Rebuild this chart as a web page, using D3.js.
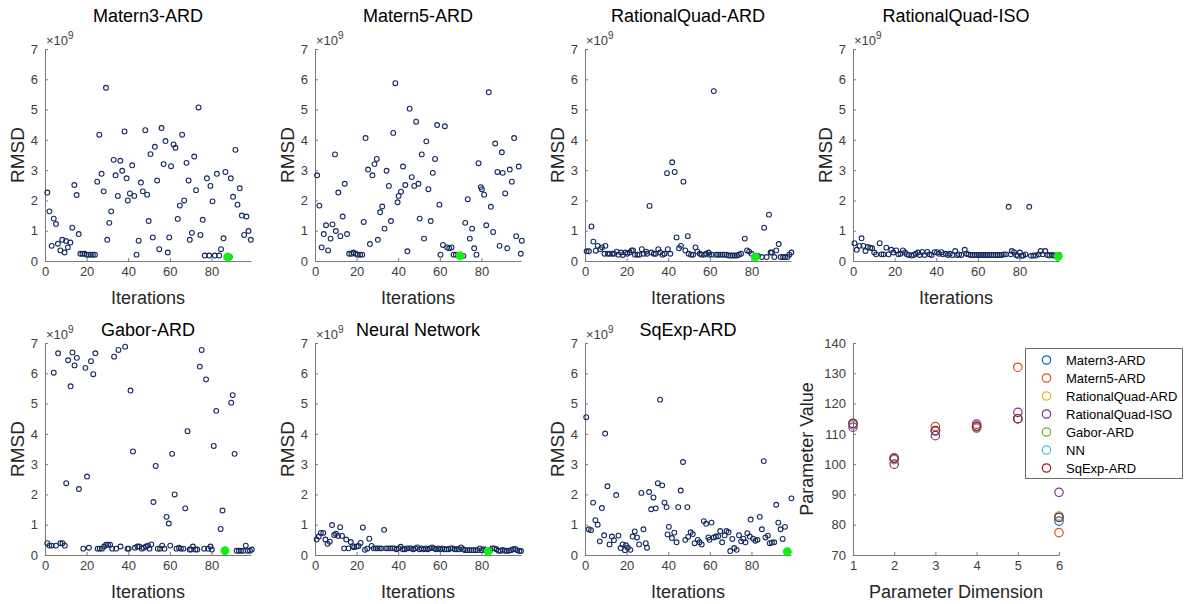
<!DOCTYPE html>
<html><head><meta charset="utf-8">
<script src="https://cdn.jsdelivr.net/npm/d3@7"></script>
<style>
body{margin:0;background:#fff;}
svg text{font-family:"Liberation Sans",Arial,Helvetica,sans-serif;}
</style>
</head><body>
<svg id="chart" width="1194" height="604"></svg>
<script>
// ---------------- DATA (RMSD values in units of 1e9) ----------------
const iterTicks = [0, 20, 40, 60, 80];
const rmsdTicks = [0, 1, 2, 3, 4, 5, 6, 7];

const matern3Iter = [1.1,2.1,3.2,4.2,5.3,6.2,7.4,8.3,9.4,10.1,11,12.2,13.1,14.1,15.2,16.2,17,18,19,20,21,22,23,24,25.1,26.1,27.2,28.2,29.3,29.9,30.9,31.8,33,33.9,35,36.2,37.1,38.2,39.2,39.8,40.8,41.9,42.9,44,45,46.1,47,48.2,49.1,49.8,50.7,51.8,52.8,53.9,54.9,56,57,57.9,59,59.7,60.6,61.8,62.7,63.8,64.8,65.9,66.9,68,69,69.6,70.6,71.7,72.6,73.8,74.7,75.8,76.8,77.8,78.9,79.5,80.5,81.6,82.6,83.7,84.6,85.8,86.7,88.8,89.3,90.4,91.5,92.5,93.6,94.6,95.7,96.8,97.8,98.9];
const matern3RMSD = [2.26,1.64,0.50,1.40,1.22,0.57,0.35,0.70,0.28,0.66,0.45,0.61,1.10,2.51,2.18,0.89,0.24,0.24,0.24,0.21,0.21,0.21,0.21,0.21,2.62,4.17,2.88,2.30,5.72,0.70,1.26,1.64,3.34,2.83,2.15,3.31,2.98,4.28,2.73,2.00,2.23,3.16,2.15,0.21,0.67,2.59,2.30,4.32,2.19,1.32,3.53,0.78,3.77,2.66,0.39,4.39,3.20,3.96,0.28,0.78,3.13,3.85,3.74,1.39,1.83,4.17,2.00,3.24,2.66,0.70,0.93,3.45,2.34,5.07,0.86,1.36,0.18,2.73,0.18,2.48,1.97,0.18,2.88,0.18,0.39,0.75,2.94,0.13,2.73,2.12,3.67,1.86,2.40,1.50,0.86,1.47,0.99,0.70];
const matern3Best = [87.8, 0.13];

const matern5Iter = [1.0,2.1,3.2,4.2,5.3,6.3,7.5,8.4,9.6,10.0,11.2,12.2,13.3,14.3,15.4,16.4,17.5,18.5,19.6,20.5,21.7,22.7,23.4,24.3,25.5,26.4,27.6,28.6,29.7,30.2,31.3,32.3,33.4,34.4,35.5,36.5,37.6,38.6,39.7,40.2,41.3,42.3,43.4,44.4,45.5,46.5,47.7,48.6,49.7,50.3,51.3,52.4,53.5,54.5,55.6,56.6,57.7,58.7,59.8,60.3,61.5,62.4,63.5,64.5,65.6,66.6,67.7,71.3,72.2,73.4,74.4,75.5,76.5,77.6,78.6,79.7,80.2,81.3,82.3,83.5,84.5,85.6,86.6,87.7,88.7,89.8,90.2,91.4,92.4,93.6,94.6,95.7,96.7,97.9,98.9,99.4];
const matern5RMSD = [2.83,1.83,0.45,0.89,1.18,0.35,0.74,1.21,3.52,0.99,2.26,0.82,1.47,2.55,0.89,0.24,0.24,0.28,0.24,0.21,0.21,0.21,1.29,4.06,3.02,0.56,2.83,3.20,3.37,0.70,1.61,1.80,1.07,2.98,2.48,1.32,4.23,5.87,1.94,2.15,2.29,3.12,2.51,0.32,5.03,2.77,2.48,4.60,2.55,1.40,3.52,0.74,3.95,2.37,1.32,2.91,3.37,4.49,1.86,0.21,0.53,4.45,0.45,0.42,0.45,0.21,0.21,0.17,1.26,2.04,0.74,1.07,0.42,0.21,3.23,2.44,2.37,2.19,1.18,5.57,1.79,0.96,3.88,2.94,0.50,3.59,2.91,2.23,0.42,3.02,2.62,4.06,0.82,3.12,0.24,0.67];
const matern5Best = [69.7, 0.17];

const rqArdIter = [0.8,1.9,3.1,4.0,5.2,6.1,7.3,8.2,9.4,9.8,11.0,11.9,13.1,14.0,15.2,16.1,17.3,18.2,19.4,20.3,21.5,22.4,23.1,24.0,25.2,26.1,27.3,28.2,29.4,29.8,31.0,31.9,33.1,34.0,35.2,36.1,37.3,38.2,39.4,39.8,41.0,41.9,43.1,44.0,45.2,46.1,47.3,48.2,49.4,49.8,51.0,51.9,53.1,54.0,55.2,56.1,57.3,58.2,59.4,59.8,61.0,61.9,63.1,64,65,66,67,68,69,70,71,72,73,74,75,76.8,77.9,78.9,80.0,83.1,85.0,86.1,87.3,88.4,89.2,89.8,91.0,91.9,93.1,94.0,95.2,96.1,97.3,98.2,99.2];
const rqArdRMSD = [0.32,0.32,1.14,0.64,0.34,0.50,0.39,0.45,0.24,0.50,0.24,0.24,0.24,0.24,0.31,0.21,0.28,0.20,0.28,0.24,0.28,0.35,0.35,0.21,0.21,0.21,0.39,0.24,0.31,0.24,1.82,0.28,0.24,0.24,0.39,0.28,0.21,0.24,2.90,0.39,0.24,3.26,2.94,0.78,0.42,0.50,2.62,0.35,0.82,0.24,0.21,0.21,0.45,0.31,0.24,0.21,0.21,0.24,0.28,0.21,0.21,5.61,0.21,0.21,0.21,0.21,0.21,0.21,0.18,0.18,0.18,0.18,0.18,0.21,0.24,0.74,0.35,0.31,0.24,0.17,0.13,1.10,0.13,1.53,0.28,0.28,0.13,0.35,0.56,0.13,0.13,0.13,0.13,0.21,0.28];
const rqArdBest = [81.9, 0.13];

const rqIsoIter = [0.7,1.8,3.1,4.1,5.0,6.0,7.1,8.3,9.2,10.2,11.1,12.8,13.7,14.7,16.0,17.1,18.4,19.4,20.8,21.8,22.8,24.0,25.0,25.9,26.9,28.2,29.2,30.1,31.2,32.0,33.3,34.4,35.7,36.8,37.8,39.2,40.4,41.3,42.5,43.3,44.6,45.7,46.5,47.8,49.1,50.1,51.0,52.1,53.7,54.5,55.5,56.5,57.5,58.5,59.5,60.5,61.5,62.5,63.5,64.5,65.5,66.5,67.5,68.5,69.5,70.5,71.5,72.5,73.5,74.8,75.8,76.3,77.4,78.4,79.2,80.2,81.0,81.8,82.9,84.7,85.5,86.7,87.9,89.2,90.2,91.1,92.4,93.4,94.4,95.5,96.3,97.2,99.0];
const rqIsoRMSD = [0.59,0.37,0.50,0.75,0.50,0.33,0.46,0.44,0.42,0.28,0.22,0.59,0.22,0.22,0.44,0.22,0.37,0.28,0.35,0.22,0.24,0.35,0.28,0.22,0.20,0.18,0.20,0.24,0.28,0.20,0.30,0.20,0.30,0.22,0.20,0.29,0.29,0.24,0.29,0.22,0.24,0.20,0.24,0.20,0.33,0.20,0.22,0.20,0.37,0.24,0.22,0.20,0.20,0.20,0.20,0.20,0.20,0.20,0.20,0.20,0.20,0.20,0.20,0.20,0.20,0.20,0.20,0.22,0.22,1.79,0.22,0.33,0.29,0.20,0.17,0.28,0.17,0.18,0.22,1.79,0.17,0.18,0.18,0.22,0.33,0.22,0.33,0.20,0.18,0.20,0.18,0.18,0.20];
const rqIsoBest = [98.6, 0.15];

const gaborIter = [1.1,2.1,3.2,4.2,5.3,6.3,7.4,8.4,9.5,10.2,11.1,12.3,13.2,14.2,15.3,16.3,18.4,19.4,20.2,21.1,22.1,23.2,24.2,25.3,26.3,27.4,28.4,29.4,30.3,31.3,32.3,33.2,34.2,35.3,36.3,38.5,39.7,40.2,41.1,42.3,43.2,44.4,45.3,46.5,47.4,48.5,49.5,50.2,51.1,52.1,53.2,54.2,55.3,56.3,57.4,58.4,59.5,60.2,61.1,62.3,63.2,64.4,65.3,66.5,67.4,68.5,69.5,70.2,71.1,72.3,73.2,74.4,75.3,76.5,77.4,78.4,79.5,80.2,81.1,82.3,84.4,85.3,89.5,90.2,91.1,92.1,93.2,94.2,95.3,96.5,97.4,98.5,99.4];
const gaborRMSD = [0.39,0.31,0.31,6.02,0.31,6.66,0.39,0.39,0.31,2.37,6.43,5.57,6.69,6.26,6.51,2.18,0.21,6.18,2.59,0.24,6.40,5.97,6.66,0.21,0.21,0.21,0.28,0.34,0.34,0.34,0.21,6.55,0.21,6.77,0.28,6.88,0.21,0.21,5.43,3.42,0.24,0.28,0.28,0.21,0.24,0.28,0.31,0.21,0.35,1.75,2.94,0.21,0.21,0.31,0.21,1.26,1.04,0.31,3.34,2.00,0.21,0.24,0.21,0.21,1.54,4.09,0.18,0.18,0.28,0.18,0.18,6.22,6.77,0.21,5.80,0.21,0.28,0.18,3.60,4.76,0.86,1.47,5.03,5.28,3.34,0.14,0.14,0.14,0.14,0.31,0.14,0.14,0.18];
const gaborBest = [86.5, 0.14];

const nnIter = [0.8,1.8,2.8,4.0,5.0,6.0,7.1,8.2,9.2,10.1,11.1,12.1,13.0,14.0,15.0,16.1,17.2,18.2,18.8,20.0,20.9,21.9,23.0,24.0,25.1,26.1,27.2,28.2,29.3,30.1,31.1,32.0,33.2,34.2,35.2,36.2,37.2,38.2,39.2,40.2,41.2,42.2,43.2,44.2,45.2,46.2,47.2,48.2,49.2,50.2,51.2,52.2,53.2,54.2,55.2,56.2,57.2,58.2,59.2,60.2,61.2,62.2,63.2,64.2,65.2,66.2,67.2,68.2,69.2,70.2,71.2,72.2,73.2,74.2,75.2,76.2,77.2,78.2,79.2,80.2,81.2,82.2,84.2,85.2,86.2,87.2,88.2,89.2,90.2,91.2,92.2,93.2,94.2,95.2,96.2,97.2,98.2,99.0];
const nnRMSD = [0.51,0.61,0.73,0.73,0.51,0.37,0.44,0.99,0.66,0.70,0.63,0.92,0.63,0.22,0.51,0.22,0.43,0.29,0.26,0.28,0.30,0.40,0.91,0.17,0.21,0.54,0.30,0.22,0.22,0.22,0.22,0.22,0.83,0.22,0.22,0.22,0.22,0.22,0.19,0.22,0.27,0.19,0.19,0.22,0.22,0.22,0.19,0.22,0.25,0.19,0.22,0.19,0.22,0.19,0.22,0.25,0.22,0.19,0.22,0.19,0.22,0.19,0.19,0.19,0.22,0.22,0.19,0.19,0.19,0.25,0.19,0.16,0.16,0.16,0.16,0.16,0.16,0.16,0.22,0.16,0.19,0.16,0.16,0.22,0.22,0.19,0.14,0.14,0.17,0.14,0.14,0.14,0.16,0.19,0.20,0.16,0.13,0.13];
const nnBest = [83.2, 0.12];

const sqExpIter = [0.6,1.8,2.9,3.9,5.0,6.1,7.1,8.1,9.2,9.7,10.8,11.8,12.9,13.9,15.0,16.1,17.1,18.1,19.2,19.7,20.6,21.8,22.9,23.9,25.0,26.0,27.1,28.1,29.2,29.8,30.8,31.8,32.9,34.0,35.0,36.1,37.1,38.2,39.2,39.7,40.3,41.8,42.9,44.0,44.8,46.0,47.1,48.2,49.2,49.6,50.8,51.8,52.7,54.2,55.1,56.1,57.1,58.2,59.3,59.8,60.8,61.9,62.9,64.0,65.0,65.9,67.1,68.0,69.0,69.8,70.8,71.7,72.9,74.0,75.0,76.1,77.1,78.0,79.2,79.6,80.8,81.9,82.9,84.0,85.0,85.9,86.7,87.9,88.8,89.8,90.9,91.9,92.9,94.0,95.0,96.1,99.2];
const sqExpRMSD = [4.55,0.85,0.82,1.73,1.15,1.00,0.45,1.55,0.65,4.01,2.27,0.35,0.61,0.49,1.98,0.64,0.23,0.35,0.16,0.32,0.24,0.17,0.61,0.78,0.58,0.35,2.05,0.85,0.39,0.24,2.08,1.51,1.90,1.54,2.37,5.13,2.30,1.73,1.58,0.68,0.93,0.56,0.74,0.42,1.58,2.13,3.07,0.50,1.58,0.60,0.75,0.69,0.39,0.50,0.42,0.35,1.12,1.03,0.58,0.50,1.07,0.58,0.61,0.62,0.79,0.42,0.65,0.79,0.75,0.13,0.53,0.23,0.17,0.65,0.45,0.54,0.42,0.72,0.61,1.17,0.54,0.47,0.50,1.26,0.85,3.10,0.58,0.64,0.39,0.41,0.42,1.66,1.07,0.85,0.53,0.93,1.87];
const sqExpBest = [97.2, 0.11];

// Parameter plot
const paramDims = [1, 2, 3, 4, 5, 6];
const paramTicksY = [70, 80, 90, 100, 110, 120, 130, 140];
const paramNames = ["Matern3-ARD", "Matern5-ARD", "RationalQuad-ARD", "RationalQuad-ISO", "Gabor-ARD", "NN", "SqExp-ARD"];
const paramColors = ["#0072BD", "#D95319", "#EDB120", "#7E2F8E", "#77AC30", "#4DBEEE", "#A2142F"];
const paramMatern3 = [113.0, 102.0, 111.0, 112.3, 115.0, 81.2];
const paramMatern5 = [113.2, 101.5, 112.4, 111.9, 132.0, 77.4];
const paramRqArd   = [113.3, 101.8, 111.0, 112.5, 115.0, 82.5];
const paramRqIso   = [112.2, 100.0, 109.4, 113.2, 117.1, 90.7];
const paramGabor   = [113.3, 101.8, 111.0, 112.5, 115.0, 82.9];
const paramNN      = [113.3, 101.8, 111.0, 112.5, 115.0, 82.4];
const paramSqExp   = [113.5, 102.0, 111.1, 112.5, 115.0, 82.4];

// ---------------- LAYOUT ----------------
const svg = d3.select("#chart");
const colLeft = [45, 315, 585, 853];
const W = 206;
const rowTop = [49, 343];
const rowBottom = [261, 555];
const titleY = [22, 336];
const navy = "#14295e";
const green = "#13ee13";
const axisGrey = "#7a7a7a";
const tickText = "#404040";

const panels = [
  {title: "Matern3-ARD", it: matern3Iter, v: matern3RMSD, best: matern3Best, r: 0, c: 0},
  {title: "Matern5-ARD", it: matern5Iter, v: matern5RMSD, best: matern5Best, r: 0, c: 1},
  {title: "RationalQuad-ARD", it: rqArdIter, v: rqArdRMSD, best: rqArdBest, r: 0, c: 2},
  {title: "RationalQuad-ISO", it: rqIsoIter, v: rqIsoRMSD, best: rqIsoBest, r: 0, c: 3},
  {title: "Gabor-ARD", it: gaborIter, v: gaborRMSD, best: gaborBest, r: 1, c: 0},
  {title: "Neural Network", it: nnIter, v: nnRMSD, best: nnBest, r: 1, c: 1},
  {title: "SqExp-ARD", it: sqExpIter, v: sqExpRMSD, best: sqExpBest, r: 1, c: 2}
];

function styleAxis(g) {
  g.selectAll(".domain").attr("stroke", axisGrey).attr("stroke-width", 1);
  g.selectAll(".tick line").attr("stroke", axisGrey).attr("stroke-width", 1);
  g.selectAll(".tick text").attr("fill", tickText)
    .style("font-size", "13px").style("font-family", "'Liberation Sans', Arial, sans-serif");
}

function drawAxes(g, x, y, top, bottom, left, xTicks, yTicks) {
  const ax = g.append("g").attr("transform", `translate(0,${bottom})`)
    .call(d3.axisBottom(x).tickValues(xTicks).tickSize(-3).tickSizeOuter(0).tickPadding(6).tickFormat(d3.format("d")));
  styleAxis(ax);
  const ay = g.append("g").attr("transform", `translate(${left},0)`)
    .call(d3.axisLeft(y).tickValues(yTicks).tickSize(-3).tickSizeOuter(0).tickPadding(7).tickFormat(d3.format("d")));
  styleAxis(ay);
}

panels.forEach(p => {
  const left = colLeft[p.c], top = rowTop[p.r], bottom = rowBottom[p.r];
  const x = d3.scaleLinear().domain([0, 99]).range([left, left + W]);
  const y = d3.scaleLinear().domain([0, 7]).range([bottom, top]);
  const g = svg.append("g");
  drawAxes(g, x, y, top, bottom, left, iterTicks, rmsdTicks);

  const pts = p.it.map((d, i) => ({it: d, v: p.v[i]})).filter(d => d.v !== undefined);
  g.append("g").selectAll("circle").data(pts).join("circle")
    .attr("cx", d => x(d.it)).attr("cy", d => y(d.v)).attr("r", 2.4)
    .attr("fill", "none").attr("stroke", navy).attr("stroke-width", 1.1);
  g.append("circle").attr("cx", x(p.best[0])).attr("cy", y(p.best[1])).attr("r", 4.2)
    .attr("fill", green).attr("stroke", green).attr("stroke-width", 0.6);

  // exponent
  const ex = g.append("text").attr("x", left + 1).attr("y", top - 4)
    .attr("fill", tickText).style("font-size", "13px");
  ex.append("tspan").text("\u00d710");
  ex.append("tspan").attr("dy", -6).style("font-size", "10px").text("9");

  g.append("text").attr("x", left + W / 2).attr("y", titleY[p.r])
    .attr("text-anchor", "middle").attr("fill", "#000").style("font-size", "18px").text(p.title);
  g.append("text").attr("x", left + W / 2).attr("y", bottom + 43)
    .attr("text-anchor", "middle").attr("fill", "#262626").style("font-size", "18px").text("Iterations");
  g.append("text").attr("transform", `translate(${left - 21},${(top + bottom) / 2}) rotate(-90)`)
    .attr("text-anchor", "middle").attr("fill", "#262626").style("font-size", "19px").text("RMSD");
});

// ---------------- Parameter plot ----------------
(function () {
  const left = colLeft[3], top = rowTop[1], bottom = rowBottom[1];
  const x = d3.scaleLinear().domain([1, 6]).range([left, left + W]);
  const y = d3.scaleLinear().domain([70, 140]).range([bottom, top]);
  const g = svg.append("g");
  drawAxes(g, x, y, top, bottom, left, paramDims, paramTicksY);
  const series = [paramMatern3, paramMatern5, paramRqArd, paramRqIso, paramGabor, paramNN, paramSqExp];
  series.forEach((s, k) => {
    g.append("g").selectAll("circle").data(s).join("circle")
      .attr("cx", (d, i) => x(paramDims[i])).attr("cy", d => y(d)).attr("r", 4.2)
      .attr("fill", "none").attr("stroke", paramColors[k]).attr("stroke-width", 1.2);
  });
  g.append("text").attr("x", left + W / 2).attr("y", bottom + 43)
    .attr("text-anchor", "middle").attr("fill", "#262626").style("font-size", "18px").text("Parameter Dimension");
  g.append("text").attr("transform", `translate(${left - 40},${(top + bottom) / 2}) rotate(-90)`)
    .attr("text-anchor", "middle").attr("fill", "#262626").style("font-size", "18px").text("Parameter Value");

  // legend
  const lg = svg.append("g");
  lg.append("rect").attr("x", 1025.5).attr("y", 348.5).attr("width", 157).attr("height", 130)
    .attr("fill", "#fff").attr("stroke", "#6e6e6e").attr("stroke-width", 1);
  paramNames.forEach((n, k) => {
    const cy = 360 + k * 18;
    lg.append("circle").attr("cx", 1046.5).attr("cy", cy).attr("r", 4.2)
      .attr("fill", "none").attr("stroke", paramColors[k]).attr("stroke-width", 1.2);
    lg.append("text").attr("x", 1066).attr("y", cy).attr("dy", "0.35em")
      .attr("fill", "#000").style("font-size", "13px").text(n);
  });
})();
</script>
</body></html>
